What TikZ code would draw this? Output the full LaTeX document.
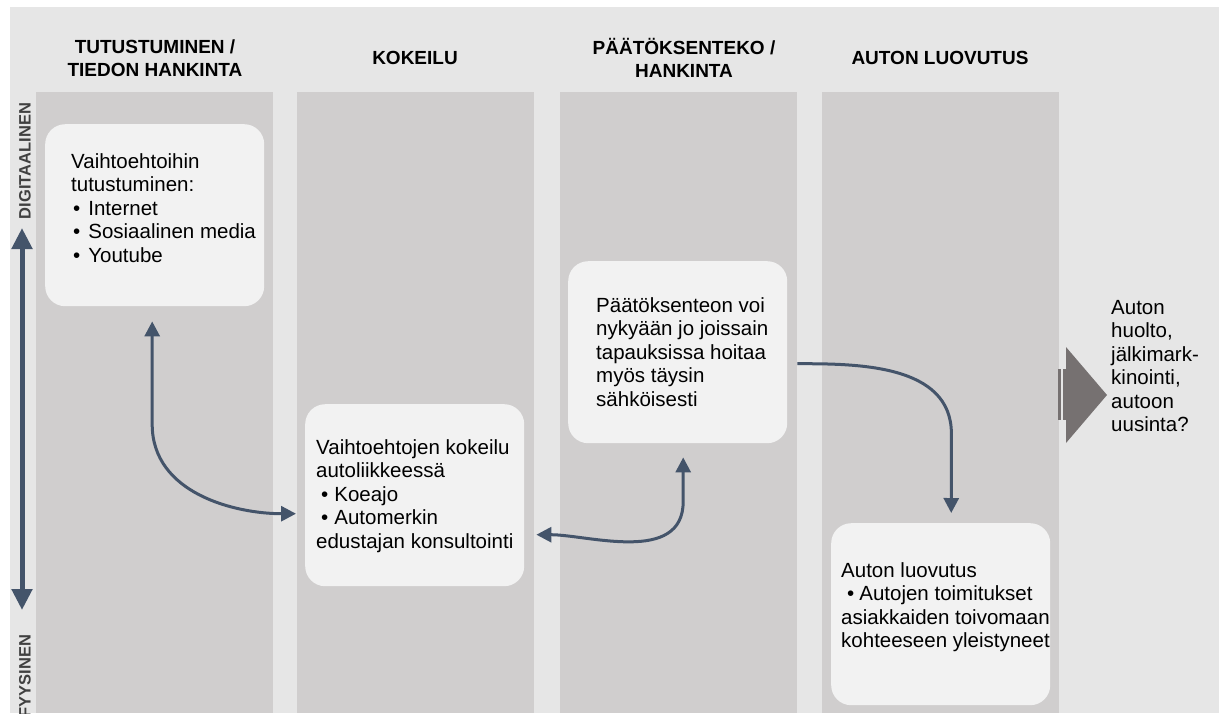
\documentclass[tikz,border=0pt]{standalone}
\usepackage{fontspec}
\setmainfont{Liberation Sans}
\usetikzlibrary{arrows.meta}

\definecolor{bgc}{HTML}{E6E6E6}
\definecolor{colc}{HTML}{D0CECE}
\definecolor{boxc}{HTML}{F2F2F2}
\definecolor{arc}{HTML}{44546A}
\definecolor{tric}{HTML}{767171}
\definecolor{labc}{HTML}{404040}

\begin{document}
\begin{tikzpicture}[x=1pt, y=-1pt,
    box/.style = {fill=boxc, rounded corners=20pt, minimum width=219pt, minimum height=182pt, anchor=north west, inner sep=0pt},
    txt/.style = {anchor=west, align=left, inner sep=0pt, font=\fontsize{20.5}{23.5}\selectfont},
    head/.style = {align=center, inner sep=0pt, font=\fontsize{19}{22.5}\selectfont\bfseries},
    side/.style = {rotate=90, inner sep=0pt, text=labc, font=\fontsize{16.5}{18}\selectfont\bfseries},
    flow/.style = {draw=arc, line width=3pt, >={Triangle[width=15pt,length=15pt]}},
    axis/.style = {draw=arc, line width=5pt, >={Triangle[width=20pt,length=21pt]}}]
    \useasboundingbox (0,0) rectangle (1224,713);
    \fill[bgc] (10,7) rectangle (1219,713);
    \foreach \x in {36,297,560,822}
        \fill[colc] (\x,92) rectangle ++(237,621);

    \node[head] (h1) at (155,58) {TUTUSTUMINEN /\\TIEDON HANKINTA};
    \node[head] (h2) at (415,58) {KOKEILU};
    \node[head] (h3) at (684,58) {PÄÄTÖKSENTEKO /\\HANKINTA};
    \node[head] (h4) at (940,58) {AUTON LUOVUTUS};

    \node[side] (dig) at (25,161) {DIGITAALINEN};
    \node[side] (fyy) at (25,676) {FYYSINEN};
    \coordinate (up) at (22,228);
    \coordinate (down) at (22,610);
    \draw[axis, <->] (down) -- (up);

    \node[box] (b1) at (45,124) {};
    \node[box] (b2) at (305,404) {};
    \node[box] (b3) at (568,261) {};
    \node[box] (b4) at (831,523) {};

    \node[txt] (t1) at (71,208) {Vaihtoehtoihin\\tutustuminen:\\\hspace*{2pt}\textbullet\hspace{8pt}Internet\\\hspace*{2pt}\textbullet\hspace{8pt}Sosiaalinen media\\\hspace*{2pt}\textbullet\hspace{8pt}Youtube};
    \node[txt] (t2) at (316,496) {Vaihtoehtojen kokeilu\\autoliikkeessä\\\hspace*{5pt}\textbullet\hspace{6pt}Koeajo\\\hspace*{5pt}\textbullet\hspace{6pt}Automerkin\\edustajan konsultointi};
    \node[txt] (t3) at (596,352) {Päätöksenteon voi\\nykyään jo joissain\\tapauksissa hoitaa\\myös täysin\\sähköisesti};
    \node[txt] (t4) at (841,607) {Auton luovutus\\\hspace*{6pt}\textbullet\hspace{5pt}Autojen toimitukset\\asiakkaiden toivomaan\\kohteeseen yleistyneet};
    \node[txt] (t5) at (1111,366) {Auton\\huolto,\\jälkimark-\\kinointi,\\autoon\\uusinta?};

    \fill[tric] (1066,347) -- (1107,395) -- (1066,443) -- cycle;
    \fill[tric] (1058,369) rectangle (1066,420);
    \draw[bgc, line width=1.5pt] (1062,369) -- (1062,420);

    \draw[flow, <->, shorten <=15pt, shorten >=9pt] ([xshift=-2.5pt]b1.south) -- ++(0,118) to[out=-90, in=180] ([yshift=-18.5pt]b2.west);
    \draw[flow, <->, shorten <=14pt, shorten >=12pt] ([xshift=5.5pt]b3.south) -- ++(0,58) to[out=-90, in=0] ([yshift=-39.5pt]b2.east);
    \draw[flow, ->, shorten <=10pt, shorten >=10pt] ([yshift=-11.5pt]b3.east) to[out=0, in=90] ++(164,70) -- ([xshift=10.5pt]b4.north);
\end{tikzpicture}
\end{document}
